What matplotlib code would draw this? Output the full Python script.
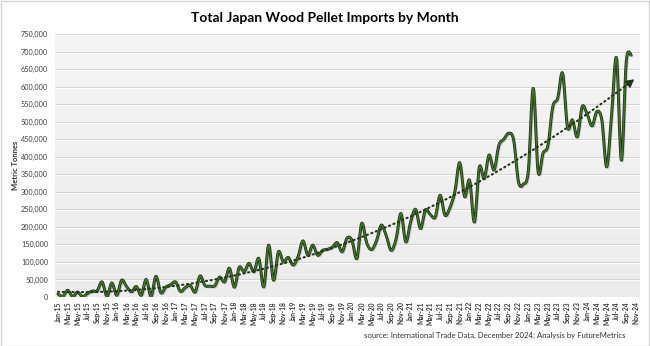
import numpy as np
import pandas as pd
import matplotlib
matplotlib.use("Agg")
import matplotlib.pyplot as plt
import matplotlib.transforms as mtransforms
from matplotlib.path import Path
from matplotlib.patches import PathPatch, Rectangle
import matplotlib.patheffects as pe

plt.rcParams['font.family'] = ['Lato', 'DejaVu Sans']

# Monthly imports, thousand tonnes (Jan-15 .. Oct-24)
imports_2015 = [8, 2, 19, 1, 14, 1, 10, 17, 18, 43, 2, 40]
imports_2016 = [5, 48, 30, 15, 30, 5, 50, 2, 59, 12, 28, 35]
imports_2017 = [43, 16, 27, 33, 14, 60, 33, 31, 32, 57, 43, 82]
imports_2018 = [28, 85, 72, 96, 72, 110, 29, 148, 48, 129, 100, 113]
imports_2019 = [91, 115, 160, 119, 148, 119, 133, 136, 142, 155, 129, 168]
imports_2020 = [162, 110, 210, 155, 135, 160, 205, 175, 133, 165, 238, 157]
imports_2021 = [215, 250, 195, 248, 235, 228, 290, 233, 255, 300, 383, 286]
imports_2022 = [333, 214, 370, 338, 405, 362, 433, 450, 467, 448, 328, 322]
imports_2023 = [360, 595, 357, 410, 432, 543, 567, 638, 484, 505, 457, 543]
imports_2024 = [522, 488, 529, 505, 371, 520, 681, 390, 672, 690]

values = 1000 * np.array(imports_2015 + imports_2016 + imports_2017 + imports_2018
                         + imports_2019 + imports_2020 + imports_2021 + imports_2022
                         + imports_2023 + imports_2024, dtype=float)

# Category axis runs Jan-15 .. Nov-24, labelled every second month
months = pd.date_range('2015-01-01', '2024-11-01', freq='MS').strftime('%b-%y').tolist()
t = np.arange(len(values))

fig = plt.figure(figsize=(6.5, 3.46), dpi=100)
fig.patch.set_facecolor('white')
ax = fig.add_axes([55 / 650, 49 / 346, 585 / 650, 263 / 346])
ax.set_xlim(-0.6, 118.8)
ax.set_ylim(0, 750000)

# plot-area shading
grad = np.linspace(0, 1, 256).reshape(-1, 1)
ax.imshow(grad, extent=[-0.6, 118.8, 0, 750000], aspect='auto', origin='lower',
          cmap=matplotlib.colors.LinearSegmentedColormap.from_list('bg', ['#ececec', '#f5f5f5']),
          zorder=0)

# embossed horizontal gridlines: grey line with a white line just below
yt = np.arange(0, 750001, 50000)
below = ax.get_yaxis_transform() + mtransforms.ScaledTranslation(0, -1 / 100, fig.dpi_scale_trans)
for y in yt:
    ax.plot([0, 1], [y, y], transform=ax.get_yaxis_transform(), color='#d4d4d4',
            lw=0.8, zorder=1, solid_capstyle='butt')
    ax.plot([0, 1], [y, y], transform=below, color='white', lw=0.6, zorder=1,
            solid_capstyle='butt')

# smoothed series as cubic Bezier segments through every monthly value
pts = np.column_stack([t, values])
verts = [tuple(pts[0])]
codes = [Path.MOVETO]
n = len(pts)
for i in range(n - 1):
    p0 = pts[max(i - 1, 0)]
    p1 = pts[i]
    p2 = pts[i + 1]
    p3 = pts[min(i + 2, n - 1)]
    c1 = p1 + (p2 - p0) / 6.0
    c2 = p2 - (p3 - p1) / 6.0
    verts += [tuple(c1), tuple(c2), tuple(p2)]
    codes += [Path.CURVE4] * 3
curve = PathPatch(Path(verts, codes), facecolor='none', edgecolor='#42742a', lw=1.1,
                  zorder=4, capstyle='round', joinstyle='round')
curve.set_path_effects([
    pe.SimpleLineShadow(offset=(1.0, -1.0), shadow_color='#777777', alpha=0.35),
    pe.Stroke(linewidth=2.1, foreground='#1c2e12'),
    pe.Normal(),
])
ax.add_patch(curve)

# quadratic trend with arrow head
coef = np.polyfit(t, values, 2)
tt = np.linspace(0, t[-1] + 0.2, 200)
trend = np.polyval(coef, tt)
ax.plot(tt, trend, color='#223516', lw=1.5, linestyle=(0, (0.6, 1.7)),
        dash_capstyle='round', zorder=5)
ax.annotate('', xy=(tt[-1] + 0.4, np.polyval(coef, tt[-1] + 0.4)),
            xytext=(tt[-1] - 1.2, np.polyval(coef, tt[-1] - 1.2)),
            arrowprops=dict(arrowstyle='-|>,head_length=0.5,head_width=0.28',
                            color='#223516', lw=0.8, shrinkA=0, shrinkB=0), zorder=6)

for s in ax.spines.values():
    s.set_visible(False)
ax.set_yticks(yt)
ax.set_yticklabels([f'{v:,.0f}' for v in yt], fontsize=5.2, color='#404040')
ax.set_xticks(t[::2].tolist() + [118])
ax.set_xticklabels(months[::2], rotation=90, fontsize=4.9, color='#3a3a3a',
                   fontweight='bold')
ax.tick_params(axis='both', length=0)
ax.tick_params(axis='y', pad=5)
ax.tick_params(axis='x', pad=3)

fig.text(325 / 650, 1 - 18 / 346, 'Total Japan Wood Pellet Imports by Month',
         ha='center', va='center', fontsize=10, fontweight='bold', color='black')
fig.text(15 / 650, 1 - 165 / 346, 'Metric Tonnes', rotation=90, ha='center', va='center',
         fontsize=5.5, fontweight='bold', color='#333333')
fig.text(626 / 650, 1 - 335 / 346,
         'source: International Trade Data, December 2024; Analysis by FutureMetrics',
         ha='right', va='center', fontsize=5.6, color='#333333')
fig.patches.append(Rectangle((0.5 / 650, 0.5 / 346), 648.5 / 650, 344.5 / 346,
                             transform=fig.transFigure, fill=False,
                             edgecolor='#d5d5d5', lw=1))

fig.savefig('out.png', dpi=100, facecolor='white')
